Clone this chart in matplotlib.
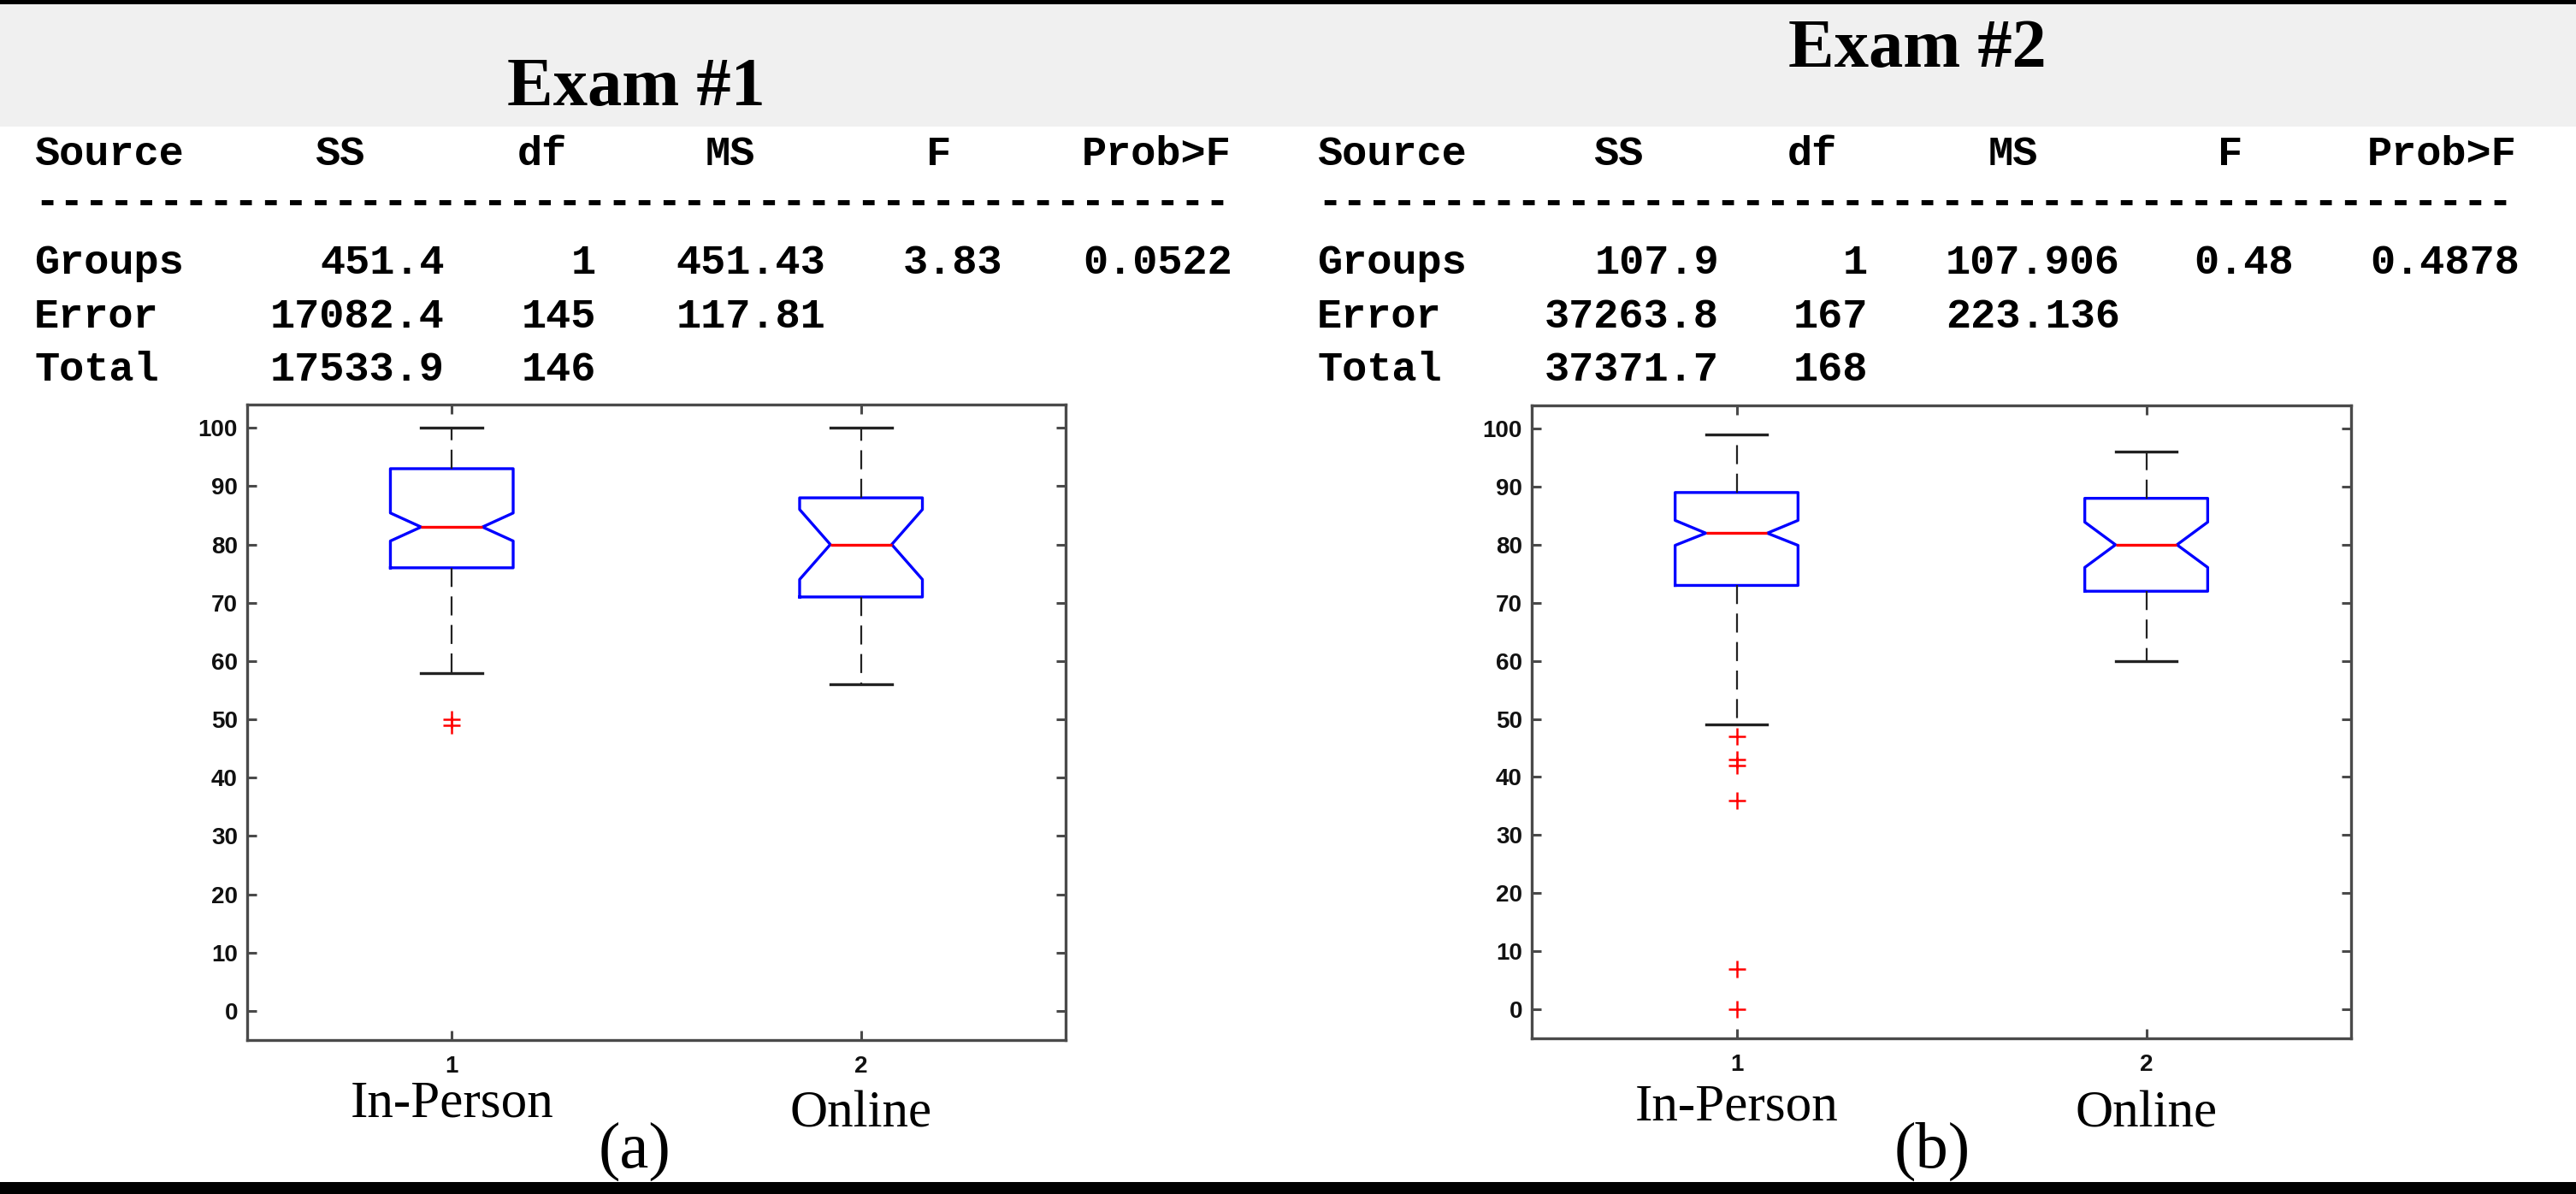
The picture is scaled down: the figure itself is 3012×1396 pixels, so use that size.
import matplotlib
matplotlib.use("Agg")
import matplotlib.pyplot as plt
from matplotlib.patches import Rectangle
from matplotlib.transforms import blended_transform_factory

# ---------------- data ----------------
exam_titles = ["Exam #1", "Exam #2"]
panel_tags = ["(a)", "(b)"]
categories = ["In-Person", "Online"]
tick_labels = ["1", "2"]

table_header = ["Source", "SS", "df", "MS", "F", "Prob>F"]
exam1_groups = ["Groups", "451.4", "1", "451.43", "3.83", "0.0522"]
exam1_error = ["Error", "17082.4", "145", "117.81", "", ""]
exam1_total = ["Total", "17533.9", "146", "", "", ""]
exam2_groups = ["Groups", "107.9", "1", "107.906", "0.48", "0.4878"]
exam2_error = ["Error", "37263.8", "167", "223.136", "", ""]
exam2_total = ["Total", "37371.7", "168", "", "", ""]

# box statistics: [In-Person, Online]
exam1_whislo = [58, 56]
exam1_q1 = [76, 71]
exam1_med = [83, 80]
exam1_q3 = [93, 88]
exam1_whishi = [100, 100]
exam1_cilo = [80.6, 74.0]
exam1_cihi = [85.4, 86.0]
exam1_fliers = [[50, 49], []]

exam2_whislo = [49, 60]
exam2_q1 = [73, 72]
exam2_med = [82, 80]
exam2_q3 = [89, 88]
exam2_whishi = [99, 96]
exam2_cilo = [79.9, 76.1]
exam2_cihi = [84.2, 83.9]
exam2_fliers = [[47, 43, 42, 36, 7, 0], []]

yticks = list(range(0, 101, 10))

# ---------------- figure ----------------
W, H = 3012, 1396
fig = plt.figure(figsize=(W / 100, H / 100), dpi=100)
fig.patch.set_facecolor("white")


def fx(x):
    return x / W


def fy(y):
    return 1 - y / H


# gray header band and black rules
fig.patches.append(Rectangle((0, fy(148)), 1, fy(3) - fy(148), transform=fig.transFigure,
                             facecolor="#f0f0f0", edgecolor="none", zorder=0))
fig.patches.append(Rectangle((0, fy(5)), 1, fy(0) - fy(5), transform=fig.transFigure,
                             facecolor="black", edgecolor="none", zorder=1))
fig.patches.append(Rectangle((0, 0), 1, fy(1382), transform=fig.transFigure,
                             facecolor="black", edgecolor="none", zorder=1))

serif = "Liberation Serif"
mono = "Liberation Mono"
sans = "Liberation Sans"

# titles
fig.text(fx(744), fy(123), exam_titles[0], ha="center", va="baseline",
         fontsize=58, fontweight="bold", family=serif)
fig.text(fx(2242), fy(78), exam_titles[1], ha="center", va="baseline",
         fontsize=58, fontweight="bold", family=serif)

# ANOVA tables
row_base = [320, 383, 445]
header_base = 193
dash_base = 250


def draw_table(header_left, col_right, rows, dash_left, dash_n):
    for x, t in zip(header_left, table_header):
        fig.text(fx(x), fy(header_base), t, ha="left", va="baseline",
                 fontsize=35, fontweight="bold", family=mono)
    fig.text(fx(dash_left), fy(dash_base), "-" * dash_n, ha="left", va="baseline",
             fontsize=35, fontweight="bold", family=mono)
    for yb, row in zip(row_base, rows):
        fig.text(fx(header_left[0]), fy(yb), row[0], ha="left", va="baseline",
                 fontsize=35, fontweight="bold", family=mono)
        for xr, t in zip(col_right, row[1:]):
            if t:
                fig.text(fx(xr), fy(yb), t, ha="right", va="baseline",
                         fontsize=35, fontweight="bold", family=mono)


draw_table([40, 368, 605, 825, 1083, 1265], [520, 697, 965, 1172, 1441],
           [exam1_groups, exam1_error, exam1_total], 40, 48)
draw_table([1540, 1863, 2090, 2325, 2593, 2768], [2010, 2184, 2479, 2682, 2946],
           [exam2_groups, exam2_error, exam2_total], 1540, 48)


# box plots
def make_stats(whislo, q1, med, q3, whishi, cilo, cihi, fliers):
    stats = []
    for i in range(len(categories)):
        stats.append(dict(whislo=whislo[i], q1=q1[i], med=med[i], q3=q3[i], whishi=whishi[i],
                          cilo=cilo[i], cihi=cihi[i], fliers=fliers[i], label=tick_labels[i]))
    return stats


stats1 = make_stats(exam1_whislo, exam1_q1, exam1_med, exam1_q3, exam1_whishi,
                    exam1_cilo, exam1_cihi, exam1_fliers)
stats2 = make_stats(exam2_whislo, exam2_q1, exam2_med, exam2_q3, exam2_whishi,
                    exam2_cilo, exam2_cihi, exam2_fliers)

ax1 = fig.add_axes([fx(289), fy(1216), fx(1246) - fx(289), fy(473) - fy(1216)])
ax2 = fig.add_axes([fx(1791), fy(1214), fx(2749) - fx(1791), fy(474) - fy(1214)])

for ax, stats in [(ax1, stats1), (ax2, stats2)]:
    ax.bxp(stats, positions=[1, 2], widths=0.3, shownotches=True,
           boxprops=dict(color="#0000ff", linewidth=2.4),
           medianprops=dict(color="#ff0000", linewidth=2.4),
           whiskerprops=dict(color="#222222", linewidth=1.6, linestyle=(0, (10, 5))),
           capprops=dict(color="#222222", linewidth=2.4),
           flierprops=dict(marker="+", markeredgecolor="#ff0000", markersize=15,
                           markeredgewidth=1.8, linestyle="none"))
    ax.set_xlim(0.5, 2.5)
    ax.set_ylim(-5, 104)
    ax.set_yticks(yticks)
    ax.set_yticklabels([str(v) for v in yticks])
    ax.set_xticks([1, 2])
    ax.set_xticklabels(tick_labels)
    for sp in ax.spines.values():
        sp.set_color("#4a4a4a")
        sp.set_linewidth(2.4)
    ax.tick_params(direction="in", top=True, right=True, length=8, width=2.2,
                   color="#4a4a4a", labelsize=20)
    ax.tick_params(axis="y", pad=8)
    ax.tick_params(axis="x", pad=13)
    for lab in ax.get_xticklabels() + ax.get_yticklabels():
        lab.set_family(sans)
        lab.set_fontweight("bold")
        lab.set_color("#111111")

# category labels and panel tags
for ax, cat_base, tag, tag_x in [(ax1, [1306, 1317], panel_tags[0], 742),
                                 (ax2, [1310, 1317], panel_tags[1], 2259)]:
    tr = blended_transform_factory(ax.transData, fig.transFigure)
    for i, cat in enumerate(categories):
        ax.text(i + 1, fy(cat_base[i]), cat, transform=tr, ha="center", va="baseline",
                fontsize=44, family=serif, clip_on=False)
    fig.text(fx(tag_x), fy(1365), tag, ha="center", va="baseline", fontsize=55, family=serif)

fig.savefig("out.png", dpi=100)
